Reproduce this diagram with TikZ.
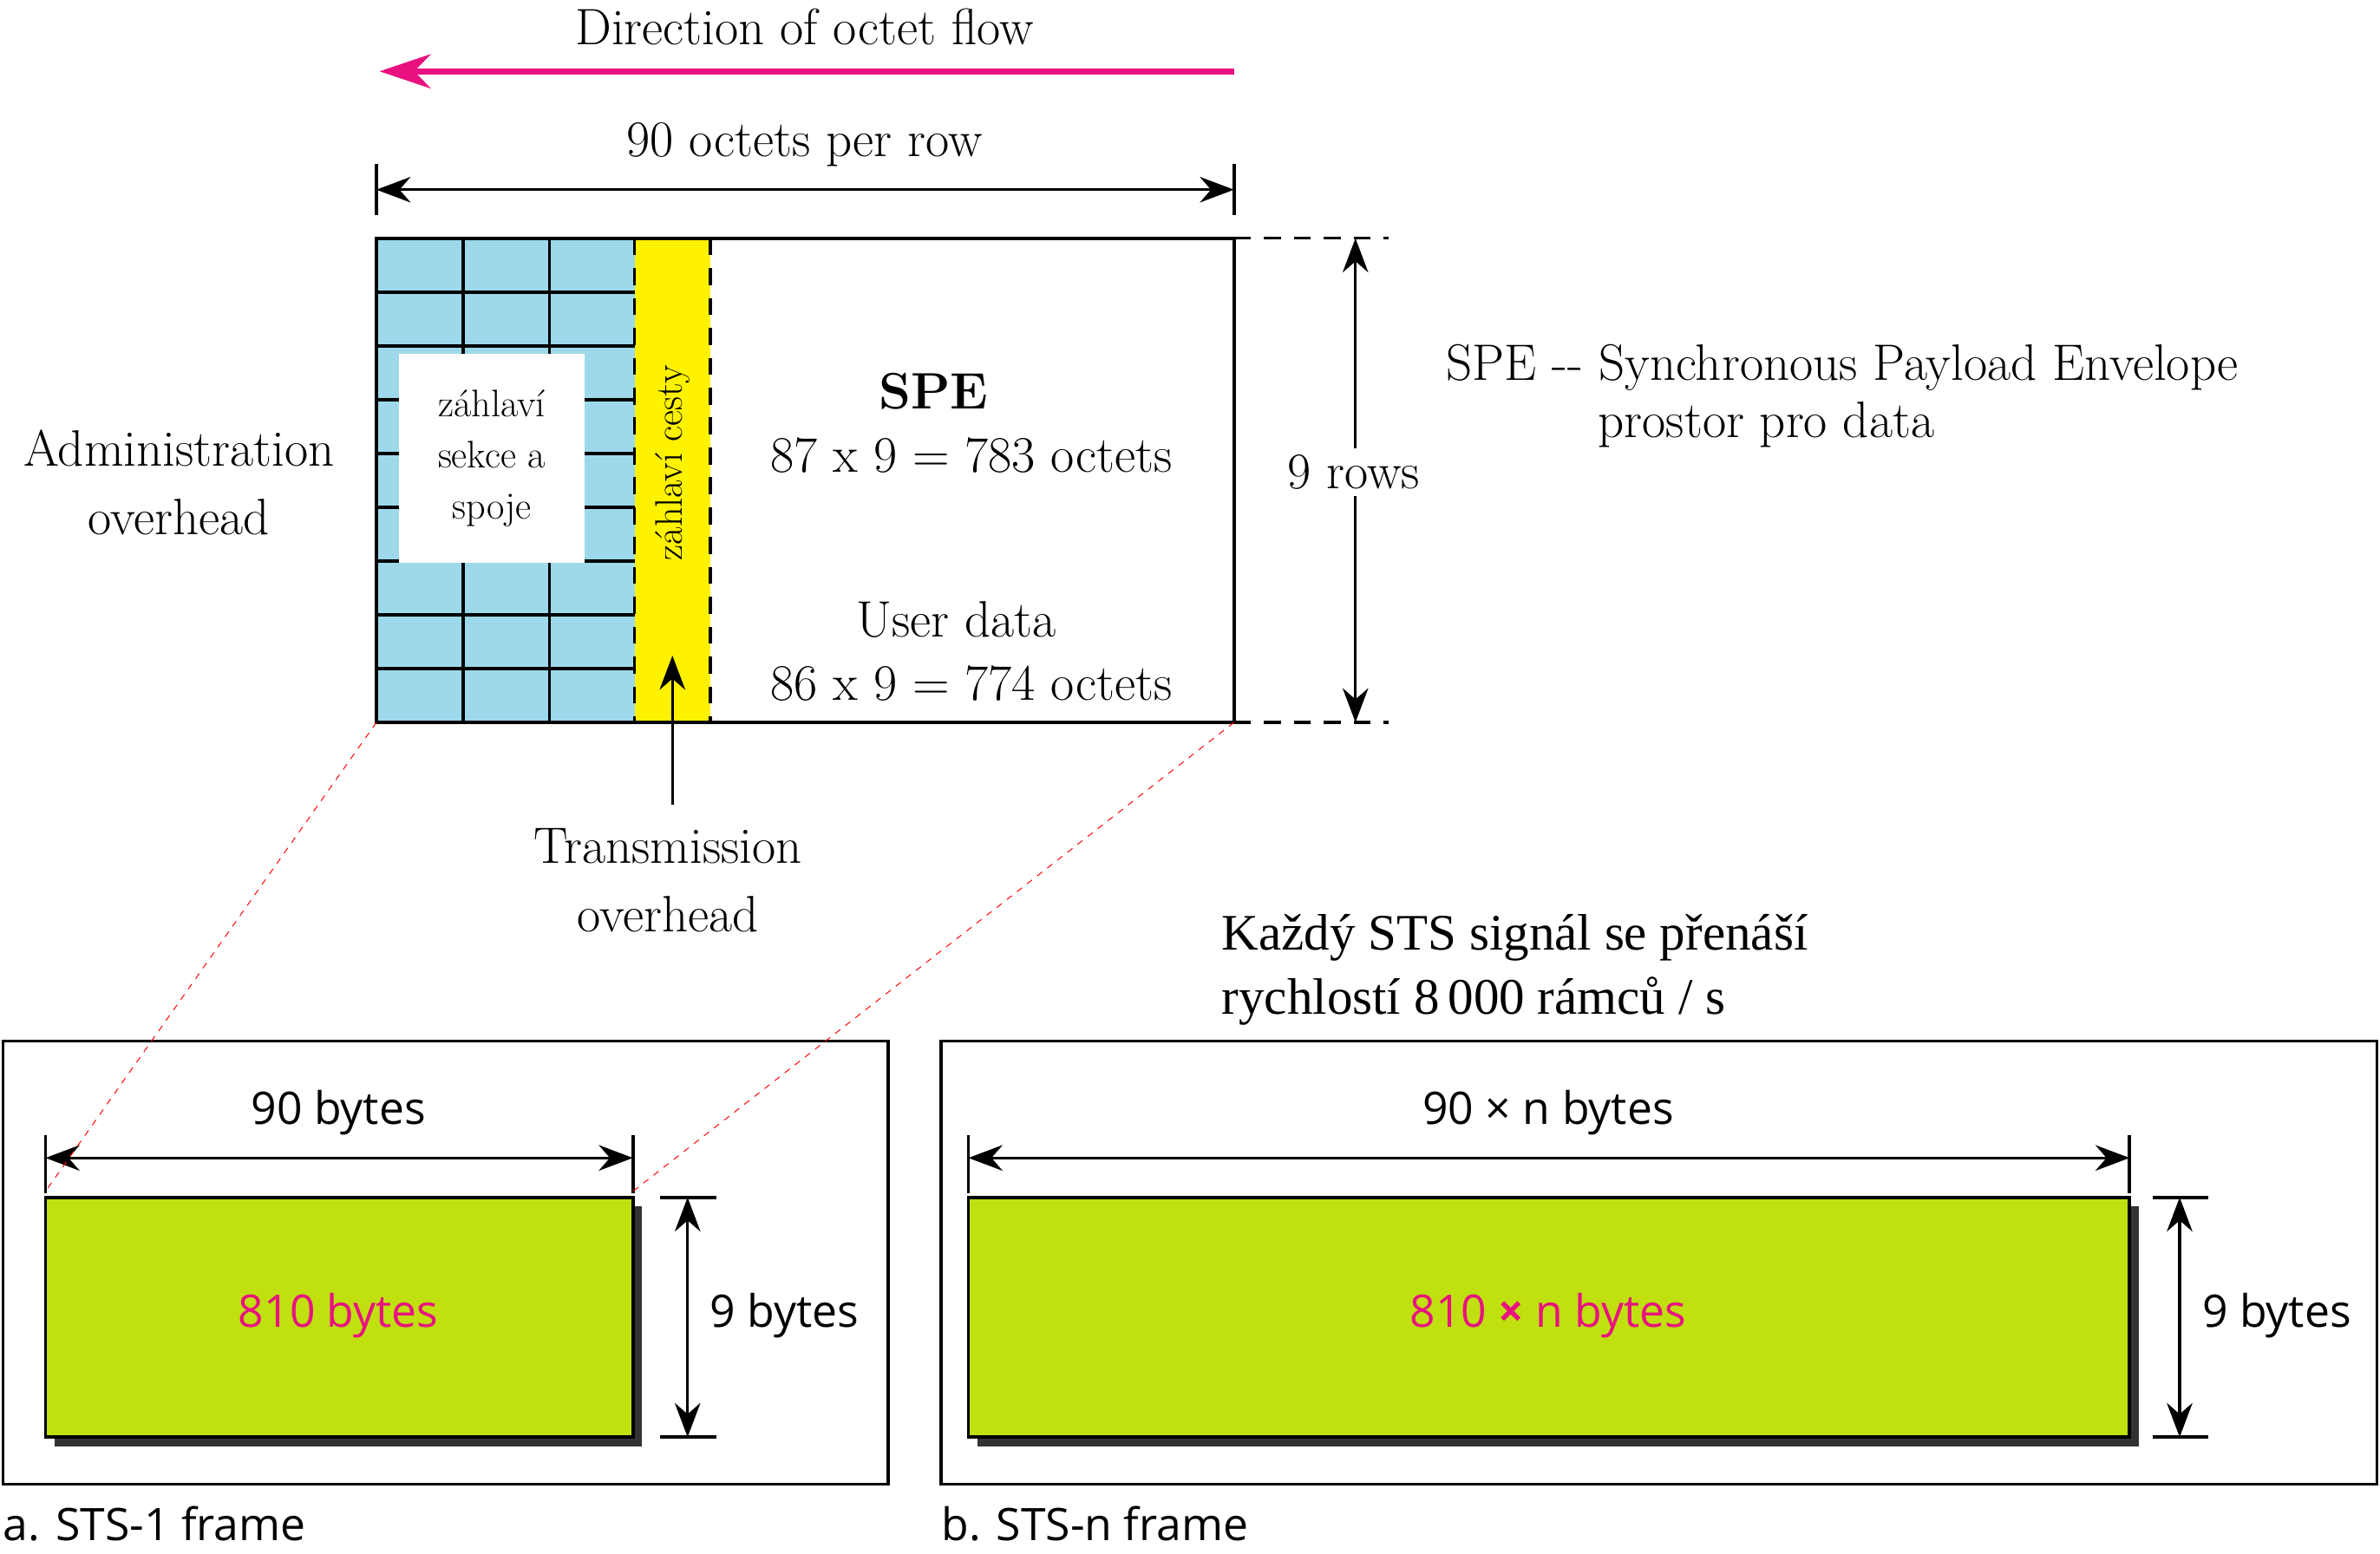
\documentclass[tikz,border=0pt]{standalone}
\usepackage{fontspec}
\setsansfont{Open Sans}
\newfontfamily\czfont{Liberation Serif}
\usetikzlibrary{positioning, arrows.meta}
\definecolor{cellblue}{HTML}{9DD9EA}
\definecolor{lime}{HTML}{C0E010}
\definecolor{flowpink}{HTML}{E8117F}
\tikzset{
	dim/.style={
		draw=black,
		line width=1.3pt,
		{Stealth[length=16pt]}-{Stealth[length=16pt]}
    },
	big/.style={font=\fontsize{24}{32}\selectfont, align=center},
	sans/.style={font=\sffamily\fontsize{21}{26}\selectfont},
	bold/.style={line width=1.5pt},
	longdash/.style={line width=1.3pt, dash pattern=on 8pt off 6pt},
}
\begin{document}
\begin{tikzpicture}[x=0.025cm,y=-0.025cm]
\useasboundingbox (0,0) rectangle (1568,1024);

% Flow direction
\node[big] (FlowL) at (530,18) {Direction of octet flow};
\coordinate (FlowA) at (813,47);
\coordinate (FlowB) at (250,47);
\draw[flowpink, line width=3pt, -{Stealth[length=24pt,width=16pt]}] (FlowA) -- (FlowB);

% Width dimension
\coordinate (WL) at (248,125);
\coordinate (WR) at (813,125);
\draw[bold] (248,108) -- (248,142) (813,108) -- (813,142);
\draw[dim] (WL) -- (WR);
\node[big] (WidthL) at (530,95) {90 octets per row};

% Frame
\fill[cellblue] (248,157) rectangle (418,476);
\fill[yellow] (418,157) rectangle (468,476);
\foreach \i in {1,...,8} {
	\draw[bold] (248,{157+\i*319/9}) -- (418,{157+\i*319/9});
}
\draw[bold] (305,157) -- (305,476) (362,157) -- (362,476);
\draw[longdash] (418,157) -- (418,476) (468,157) -- (468,476);
\draw[bold] (248,157) rectangle (813,476);
\node[fill=white, minimum width=122*0.025cm, minimum height=138*0.025cm, align=center,
	font=\fontsize{18}{24}\selectfont] (Sec) at (324,302) {záhlaví\\sekce a\\spoje};
\node[rotate=90, font=\fontsize{18}{20}\selectfont] (Path) at (443,305) {záhlaví cesty};

\node[big, font=\bfseries\fontsize{24}{32}\selectfont] (SPE) at (615,258) {SPE};
\node[big] (SPEn) at (640,300) {87 x 9 = 783 octets};
\node[big] (User) at (630,408) {User data};
\node[big] (Usern) at (640,450) {86 x 9 = 774 octets};

% Rows dimension
\draw[longdash] (813,157) -- (915,157) (813,476) -- (915,476);
\coordinate (RT) at (893,157);
\coordinate (RB) at (893,476);
\draw[dim] (RT) -- (RB);
\node[big, fill=white, inner sep=3pt] (Rows) at (892,311) {9 rows};

% Side labels
\node[big] (Adm) at (118,318) {Administration\\overhead};
\node[big] (Trans) at (440,580) {Transmission\\overhead};
\draw[line width=1.3pt, -{Stealth[length=16pt]}] (443,530) -- (443,432);
\node[big, anchor=west] (SPEd) at (948,242) {SPE {-}{-} Synchronous Payload Envelope};
\node[big, anchor=west] (SPEp) at (1048,280) {prostor pro data};
\node[font=\czfont\fontsize{24}{30}\selectfont, anchor=west, align=left] (Rate) at (800,639)
	{Každý STS signál se přenáší\\rychlostí 8\,000 rámců / s};

% STS-1 frame
\draw[bold] (2,686) rectangle (585,978);
\node[sans, anchor=west, inner sep=0pt] (LabA) at (2,1004) {a. STS-1 frame};
\fill[black!80] (36,795) rectangle (423,953);
\draw[bold, fill=lime] (30,789) rectangle (417,947);
\node[sans, text=flowpink] (A810) at (223,867) {810 bytes};
\draw[bold] (30,748) -- (30,786) (417,748) -- (417,786);
\coordinate (AL) at (30,763);
\coordinate (AR) at (417,763);
\draw[dim] (AL) -- (AR);
\node[sans] (A90) at (223,733) {90 bytes};
\draw[bold] (435,789) -- (472,789) (435,947) -- (472,947);
\coordinate (AT) at (453,789);
\coordinate (AB) at (453,947);
\draw[dim] (AT) -- (AB);
\node[sans] (A9) at (517,867) {9 bytes};

% STS-n frame
\draw[bold] (620,686) rectangle (1566,978);
\node[sans, anchor=west, inner sep=0pt] (LabB) at (620,1004) {b. STS-n frame};
\fill[black!80] (644,795) rectangle (1409,953);
\draw[bold, fill=lime] (638,789) rectangle (1403,947);
\node[sans, text=flowpink] (B810) at (1020,867) {810 {\bfseries ×} n bytes};
\draw[bold] (638,748) -- (638,786) (1403,748) -- (1403,786);
\coordinate (BL) at (638,763);
\coordinate (BR) at (1403,763);
\draw[dim] (BL) -- (BR);
\node[sans] (B90) at (1020,733) {90 × n bytes};
\draw[bold] (1418,789) -- (1455,789) (1418,947) -- (1455,947);
\coordinate (BT) at (1436,789);
\coordinate (BB) at (1436,947);
\draw[dim] (BT) -- (BB);
\node[sans] (B9) at (1500,867) {9 bytes};

% Zoom lines
\draw[red, dashed] (248,476) -- (30,785);
\draw[red, dashed] (813,476) -- (417,785);

\end{tikzpicture}
\end{document}
